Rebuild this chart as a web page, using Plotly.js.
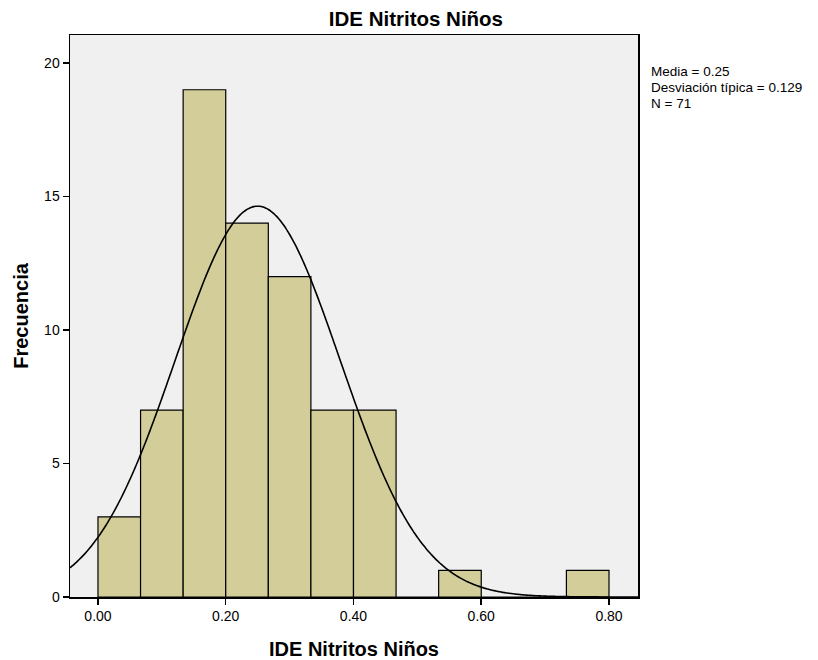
<!DOCTYPE html>
<html>
<head>
<meta charset="utf-8">
<script src="https://cdn.plot.ly/plotly-3.0.1.min.js"></script>
<style>
  html, body { margin: 0; padding: 0; background: #ffffff; }
  #chart { width: 818px; height: 660px; }
</style>
</head>
<body>
<div id="chart"></div>
<script>
// Histogram bins: lower edge of each bin and its frequency
const binWidth = 1 / 15;
const binStarts = [0, 1/15, 2/15, 3/15, 4/15, 5/15, 6/15, 7/15, 8/15, 9/15, 10/15, 11/15];
const frequencies = [3, 7, 19, 14, 12, 7, 7, 0, 1, 0, 0, 1];

// Summary statistics shown beside the plot
const media = 0.25;
const desviacion = 0.129;
const n = 71;
const statLines = [
  'Media = ' + media.toFixed(2),
  'Desviación típica = ' + desviacion,
  'N = ' + n
];

const xTickVals = [0, 0.2, 0.4, 0.6, 0.8];
const xTickText = ['0.00', '0.20', '0.40', '0.60', '0.80'];
const yTickVals = [0, 5, 10, 15, 20];

const xRange = [-0.0438, 0.8454];
const yRange = [0, 21.05];

// Normal curve scaled to the histogram (N * bin width * density)
const curveX = [];
const curveY = [];
const steps = 300;
for (let i = 0; i <= steps; i++) {
  const x = xRange[0] + (xRange[1] - xRange[0]) * i / steps;
  const z = (x - media) / desviacion;
  curveX.push(x);
  curveY.push(n * binWidth * Math.exp(-0.5 * z * z) / (desviacion * Math.sqrt(2 * Math.PI)));
}

const font = 'Arial, "Liberation Sans", sans-serif';

const bars = {
  type: 'bar',
  x: binStarts.map(s => s + binWidth / 2),
  y: frequencies,
  width: binStarts.map(() => binWidth),
  marker: { color: '#D3CE99', line: { color: '#000000', width: 1.2 } },
  hoverinfo: 'x+y',
  showlegend: false
};

const curve = {
  type: 'scatter',
  mode: 'lines',
  x: curveX,
  y: curveY,
  line: { color: '#000000', width: 1.6, shape: 'spline' },
  hoverinfo: 'skip',
  showlegend: false
};

// Plot area spans 35..597 px vertically; stat lines sit just right of it
const plotTop = 35, plotBottom = 597;
const statCenters = [72, 87.5, 103];
const statAnnotations = statLines.map((t, i) => ({
  xref: 'paper', yref: 'paper',
  x: 1, xshift: 11,
  y: (plotBottom - statCenters[i]) / (plotBottom - plotTop),
  xanchor: 'left', yanchor: 'middle',
  align: 'left',
  showarrow: false,
  text: t,
  font: { family: font, size: 13.5, color: '#000000' }
}));

const layout = {
  width: 818,
  height: 660,
  margin: { l: 70, r: 180, t: 35, b: 63 },
  paper_bgcolor: '#ffffff',
  plot_bgcolor: '#F0F0F0',
  bargap: 0,
  font: { family: font, size: 14, color: '#000000' },
  title: {
    text: '<b>IDE Nitritos Niños</b>',
    font: { family: font, size: 20.5, color: '#000000' },
    x: 0.609, xref: 'paper', xanchor: 'center',
    y: 0.971, yref: 'container', yanchor: 'middle'
  },
  xaxis: {
    range: xRange,
    tickvals: xTickVals,
    ticktext: xTickText,
    ticks: 'outside',
    ticklen: 6,
    tickwidth: 1.5,
    tickcolor: '#000000',
    showgrid: false,
    zeroline: false,
    showline: true,
    linecolor: '#000000',
    linewidth: 1.5,
    mirror: true,
    tickfont: { family: font, size: 14, color: '#000000' },
    title: {
      text: '<b>IDE Nitritos Niños</b>',
      font: { family: font, size: 20, color: '#000000' },
      standoff: 20
    }
  },
  yaxis: {
    range: yRange,
    tickvals: yTickVals,
    ticks: 'outside',
    ticklen: 6,
    tickwidth: 1.5,
    tickcolor: '#000000',
    showgrid: false,
    zeroline: false,
    showline: true,
    linecolor: '#000000',
    linewidth: 1.5,
    mirror: true,
    tickfont: { family: font, size: 14, color: '#000000' },
    title: {
      text: '<b>Frecuencia</b>',
      font: { family: font, size: 20, color: '#000000' },
      standoff: 10
    }
  },
  annotations: statAnnotations
};

Plotly.newPlot('chart', [bars, curve], layout, { displayModeBar: false, staticPlot: true });
</script>
</body>
</html>
